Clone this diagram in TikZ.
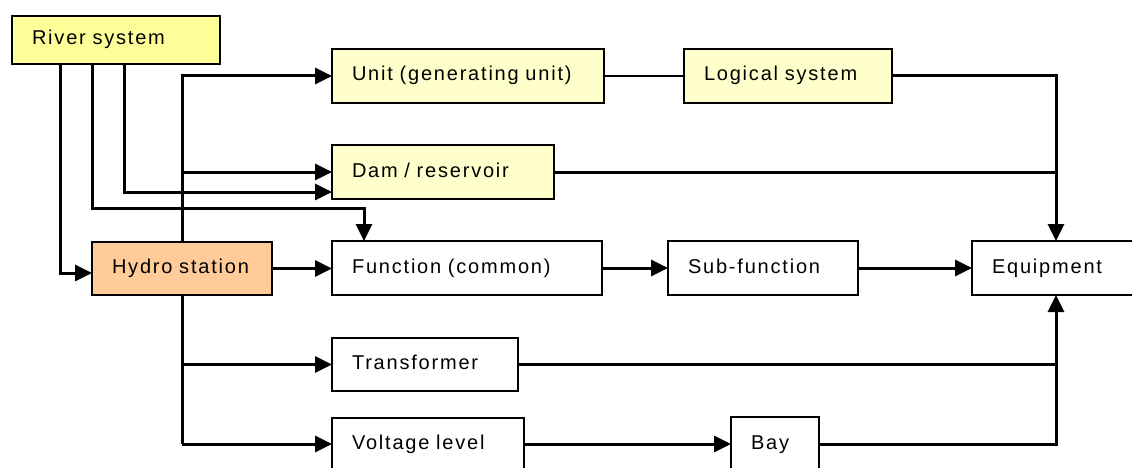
\documentclass[tikz,border=0pt]{standalone}
\usepackage{fontspec}
\setmainfont{Liberation Sans}[LetterSpace=9]
\usetikzlibrary{arrows.meta}
\definecolor{riv}{HTML}{FFFF99}
\definecolor{pale}{HTML}{FFFFCC}
\definecolor{peach}{HTML}{FFCC99}
\begin{document}
\begin{tikzpicture}[x=1pt,y=-1pt,
  box/.style={draw, line width=2.6pt, anchor=north west, inner xsep=20pt, inner ysep=0pt,
    outer sep=0pt, align=left, text height=16pt, text depth=6pt,
    font=\fontsize{20}{24}\selectfont},
  arr/.style={line width=3pt, -{Triangle[length=17pt,width=16pt]}},
  ln/.style={line width=3pt},
  thin line/.style={line width=1.4pt}]
\useasboundingbox (0,0) rectangle (1132,468);
\clip (0,0) rectangle (1132,468);
\fill[white] (0,0) rectangle (1132,468);
% boxes
\node[box, fill=riv,   text width=168pt, minimum height=48pt] (river) at (12,16)   {River system};
\node[box, fill=pale,  text width=232pt, minimum height=54pt] (unit)  at (332,49)  {Unit (generating unit)};
\node[box, fill=pale,  text width=168pt, minimum height=54pt] (logic) at (684,49)  {Logical system};
\node[box, fill=pale,  text width=182pt, minimum height=54pt] (dam)   at (332,145) {Dam / reservoir};
\node[box, fill=peach, text width=140pt, minimum height=53pt] (hydro) at (92,242)  {Hydro station};
\node[box, fill=white, text width=230pt, minimum height=54pt] (func)  at (332,241) {Function (common)};
\node[box, fill=white, text width=150pt, minimum height=54pt] (sub)   at (668,241) {Sub-function};
\node[box, fill=white, text width=128pt, minimum height=54pt] (equip) at (972,241) {Equipment};
\node[box, fill=white, text width=146pt, minimum height=53pt] (trans) at (332,338) {Transformer};
\node[box, fill=white, text width=152pt, minimum height=52pt] (volt)  at (332,418) {Voltage level};
\node[box, fill=white, text width=48pt,  minimum height=54pt] (bay)   at (731,417) {Bay};
\coordinate (bend) at (364,208);
% river system connectors
\draw[arr] (river.south -| 60,0) |- (hydro.west |- 0,273);
\draw[arr] (river.south -| 92,0) |- (bend) -- (func.north -| bend);
\draw[arr] (river.south -| 124,0) |- (dam.west |- 0,192);
% hydro station connectors
\draw[arr] (hydro.north) |- (unit.west);
\draw[arr] (hydro.north |- dam.west) -- (dam.west);
\draw[arr] (hydro.east) -- (func.west |- hydro.east);
\draw[ln] (hydro.south) -- (hydro.south |- volt.west);
\draw[arr] (hydro.south |- trans.west) -- (trans.west);
\draw[arr] (hydro.south |- volt.west) -- (volt.west);
% middle
\draw[thin line] (unit.east) -- (logic.west);
\draw[arr] (func.east) -- (sub.west);
\draw[arr] (sub.east) -- (equip.west);
\draw[arr] (volt.east) -- (bay.west |- volt.east);
% to equipment
\draw[arr] (logic.east) -| (equip.north);
\draw[ln] (dam.east) -- (equip.north |- dam.east);
\draw[arr] (bay.east |- volt.east) -| (equip.south);
\draw[ln] (trans.east) -- (equip.south |- trans.east);
\end{tikzpicture}
\end{document}
